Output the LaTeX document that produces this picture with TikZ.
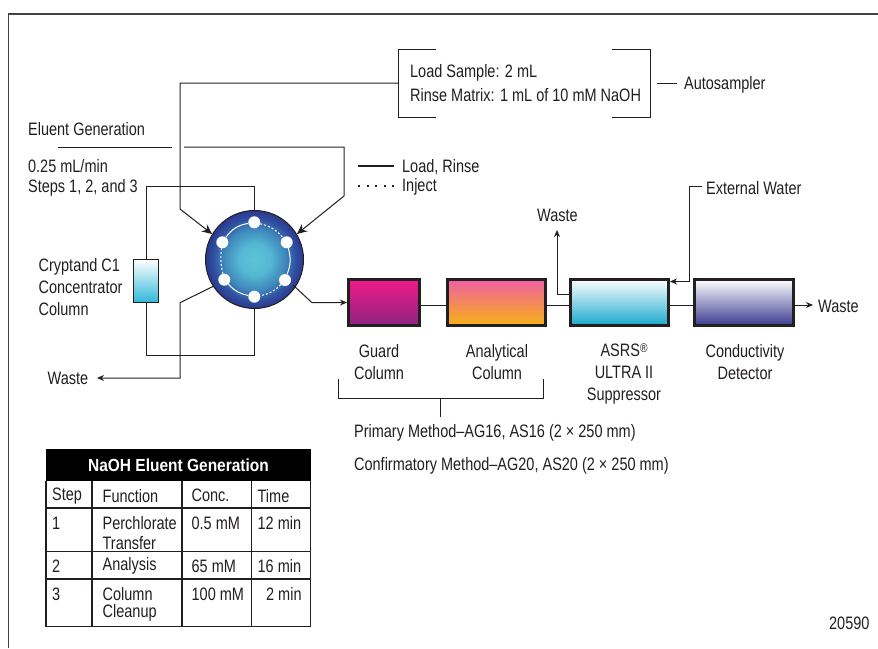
\documentclass[tikz,border=0pt]{standalone}
\usepackage{fontspec}
\setmainfont{Liberation Sans}
\usetikzlibrary{arrows.meta,calc}
\definecolor{ink}{HTML}{231F20}
\definecolor{blueD}{HTML}{2A3890}
\definecolor{blueM}{HTML}{3050A0}
\definecolor{blueL}{HTML}{3E86BA}
\definecolor{cyanM}{HTML}{55B8D4}
\definecolor{cyanV}{HTML}{5CC4D8}
\definecolor{guardT}{HTML}{F01A8A}
\definecolor{guardB}{HTML}{8E2480}
\definecolor{analT}{HTML}{EE5FA3}
\definecolor{analB}{HTML}{F7B215}
\definecolor{asrsB}{HTML}{18A8CC}
\definecolor{condB}{HTML}{3A3A90}
\definecolor{concB}{HTML}{30B8D8}
\pgfdeclareradialshading{valveshade}{\pgfpoint{0bp}{0bp}}{color(0bp)=(cyanV); color(8bp)=(cyanM); color(16bp)=(blueL); color(21bp)=(blueM); color(25bp)=(blueD); color(50bp)=(blueD)}
\tikzset{
 x=1pt,y=-1pt,
 pipe/.style={draw=ink,line width=1pt},
 flow/.style={pipe,-{Stealth[length=7pt,width=6pt]}},
 flowB/.style={pipe,-{Stealth[length=10pt,width=9pt]}},
 lab/.style={font=\fontsize{18}{22}\selectfont,text=ink,inner sep=0pt,xscale=.805,yshift=-1.2pt},
 labc/.style={lab,align=center},
 labl/.style={lab,align=left,anchor=west},
 colbox/.style={draw=ink,line width=2.8pt,minimum width=#1,minimum height=46.6pt,inner sep=0pt,anchor=center},
 port/.style={circle,fill=white,inner sep=0pt,minimum size=12pt},
 cell/.style={lab,anchor=west},
 rule/.style={draw=ink,line width=1.1pt},
}
\begin{document}
\begin{tikzpicture}
\useasboundingbox (0,0) rectangle (878,648);
\fill[white] (0,0) rectangle (878,648);
\draw[draw=ink!85,line width=1.4pt] (8.5,648) -- (8.5,14) -- (878,14);
% valve
\coordinate (vc) at (254.5,259.5);
\node[circle,draw=ink,line width=1pt,minimum size=98pt,inner sep=0pt,shading=valveshade] (valve) at (vc) {};
\node[port] (p1) at (254.3,222.3) {};
\node[port] (p2) at (286.7,242.3) {};
\node[port] (p3) at (285,280) {};
\node[port] (p4) at (254.3,296.7) {};
\node[port] (p5) at (224.3,279.7) {};
\node[port] (p6) at (222.3,242.3) {};
\draw[white,line width=1pt] (p6) to[bend left=22] (p1);
\draw[white,line width=1.1pt,dash pattern=on 2pt off 2pt] (p1) to[bend left=18] (p2);
\draw[white,line width=1pt] (p2) to[bend left=18] (p3);
\draw[white,line width=1.1pt,dash pattern=on 2pt off 2pt] (p3) to[bend left=18] (p4);
\draw[white,line width=1pt] (p4) to[bend left=18] (p5);
\draw[white,line width=1.1pt,dash pattern=on 2pt off 2pt] (p5) to[bend left=10] (p6);
% autosampler bracket
\coordinate (brA) at (398.5,83);
\coordinate (brC) at (657,83.5);
\draw[pipe] (436,49) -- (398.5,49) -- (398.5,117) -- (436,117);
\draw[pipe] (612,49) -- (650,49) -- (650,117) -- (612,117);
\node[labl] (loadS) at (410,72) {Load Sample: 2 mL};
\node[labl] (rinse) at (410,93.5) {Rinse Matrix: 1 mL of 10 mM NaOH};
\node[labl] (auto) at (684,84) {Autosampler};
\coordinate (brD) at (677,83.5);
\draw[pipe] (brC) -- (brD);
\coordinate (k1) at (180,83);
\coordinate (k2) at (180,209);
\draw[flowB] (brA) -- (k1) -- (k2) -- (valve.149);
% eluent
\node[labl] (eg) at (28,128) {Eluent Generation};
\coordinate (e0) at (58,147);
\coordinate (e1) at (172,147);
\coordinate (e2) at (184,147);
\coordinate (e3) at (344,147);
\coordinate (e4) at (344,196);
\draw[pipe] (e0) -- (e1);
\draw[flowB] (e2) -- (e3) -- (e4) -- (valve.31);
\node[labl] (elflow) at (28,165) {0.25 mL/min};
\node[labl] (steps) at (28,187) {Steps 1, 2, and 3};
% legend
\coordinate (l1) at (358,166);
\coordinate (l2) at (394,166);
\coordinate (l3) at (358,186);
\coordinate (l4) at (394,186);
\draw[draw=ink,line width=1.6pt] (l1) -- (l2);
\draw[draw=ink,line width=1.6pt,dash pattern=on 2pt off 6.5pt] (l3) -- (l4);
\node[labl] (lr) at (402,166) {Load, Rinse};
\node[labl] (inj) at (402,186) {Inject};
% concentrator
\node[draw=ink,line width=1pt,minimum width=25pt,minimum height=43pt,inner sep=0pt,top color=white,bottom color=concB] (conc) at (146,281) {};
\coordinate (c1) at (146,186.7);
\coordinate (c2) at (254.5,186.7);
\coordinate (c3) at (146,355);
\coordinate (c4) at (254.5,355);
\draw[pipe] (conc.north) -- (c1) -- (c2) -- (valve.north);
\draw[pipe] (conc.south) -- (c3) -- (c4) -- (valve.south);
\node[labl] (cc) at (38.5,285.5) {Cryptand C1\\Concentrator\\Column};
% waste left
\node[labl] (w1) at (47.5,377.5) {Waste};
\coordinate (w2) at (180,378);
\coordinate (w3) at (180,302.7);
\coordinate (w4) at (97,378);
\draw[flow] (valve.213) -- (w3) -- (w2) -- (w4);
% columns
\node[colbox=71.2pt,top color=guardT,bottom color=guardB] (guard) at (384,302.5) {};
\node[colbox=98.2pt,top color=analT,bottom color=analB] (anal) at (496.5,302.5) {};
\node[colbox=98.2pt,top color=white,bottom color=asrsB] (asrs) at (619.5,302.5) {};
\node[colbox=99.2pt,top color=white,bottom color=condB] (cond) at (744,302.5) {};
% out to guard
\coordinate (g0) at (293,285);
\coordinate (g1) at (312,302.7);
\draw[flow] (g0) -- (g1) -- (guard.west);
% series
\draw[pipe] ([yshift=-2.5pt]guard.east) -- ([yshift=-2.5pt]anal.west);
\draw[pipe] ([yshift=-2.5pt]anal.east) -- ([yshift=-2.5pt]asrs.west);
\draw[pipe] ([yshift=-2.5pt]asrs.east) -- ([yshift=-2.5pt]cond.west);
\node[labl] (w3l) at (818,305) {Waste};
\coordinate (w5) at (813,305);
\draw[flow] ([yshift=-2.5pt]cond.east) -- (w5);
% waste suppressor
\node[labc] (w2l) at (557.5,214) {Waste};
\coordinate (s1) at (557,294.3);
\coordinate (s2) at (557,230);
\draw[flow] (asrs.west |- s1) -- (s1) -- (s2);
% external water
\node[labl] (ew) at (706,187) {External Water};
\coordinate (x0) at (702,186);
\coordinate (x1) at (689.5,186);
\coordinate (x2) at (689.5,281.5);
\draw[flow] (x0) -- (x1) -- (x2) -- (asrs.east |- x2);
% labels
\node[labc] at (379,361) {Guard\\Column};
\node[labc] at (497,361) {Analytical\\Column};
\node[labc] at (624,372.5) {ASRS\raisebox{.45ex}{\scalebox{.7}{®}}\\ULTRA II\\Suppressor};
\node[labc] at (745,361) {Conductivity\\Detector};
% bracket
\coordinate (b0) at (338,379);
\coordinate (b1) at (338,398);
\coordinate (b2) at (543,398);
\coordinate (b3) at (543,379);
\coordinate (b4) at (440.5,398);
\coordinate (b5) at (440.5,417);
\draw[pipe] (b0) -- (b1) -- (b2) -- (b3);
\draw[pipe] (b4) -- (b5);
\node[labl] (pm) at (354,432) {Primary Method–AG16, AS16 (2 × 250 mm)};
\node[labl] (cm) at (354,465) {Confirmatory Method–AG20, AS20 (2 × 250 mm)};
\node[labl] (num) at (829,622) {20590};
% table
\fill[black] (46,449) rectangle (310.7,481);
\node[lab,text=white,font=\fontsize{17.5}{20}\selectfont\bfseries,xscale=1.1] (th) at (178.5,464) {NaOH Eluent Generation};
\draw[rule] (46,481) -- (46,626.5) -- (310.5,626.5) -- (310.5,481);
\draw[rule] (46,508) -- (310.5,508);
\draw[rule] (46,551.5) -- (310.5,551.5);
\draw[rule] (46,579) -- (310.5,579);
\draw[rule] (92,481) -- (92,626.5);
\draw[rule] (182,481) -- (182,626.5);
\draw[rule] (251.7,481) -- (251.7,626.5);
\node[cell] at (52,494.5) {Step};
\node[cell] at (102.5,494.5) {Function};
\node[cell] at (191.5,494.5) {Conc.};
\node[cell] at (257.5,494.5) {Time};
\node[cell] at (52,522) {1};
\node[cell] at (102.5,522) {Perchlorate};
\node[cell] at (102.5,541.5) {Transfer};
\node[cell] at (191.5,522) {0.5 mM};
\node[cell] at (257.5,522) {12 min};
\node[cell] at (52,565) {2};
\node[cell] at (102.5,565) {Analysis};
\node[cell] at (191.5,565) {65 mM};
\node[cell] at (257.5,565) {16 min};
\node[cell] at (52,593) {3};
\node[cell] at (102.5,593) {Column};
\node[cell] at (102.5,612) {Cleanup};
\node[cell] at (191.5,593) {100 mM};
\node[cell] at (266,593) {2 min};
\end{tikzpicture}
\end{document}
